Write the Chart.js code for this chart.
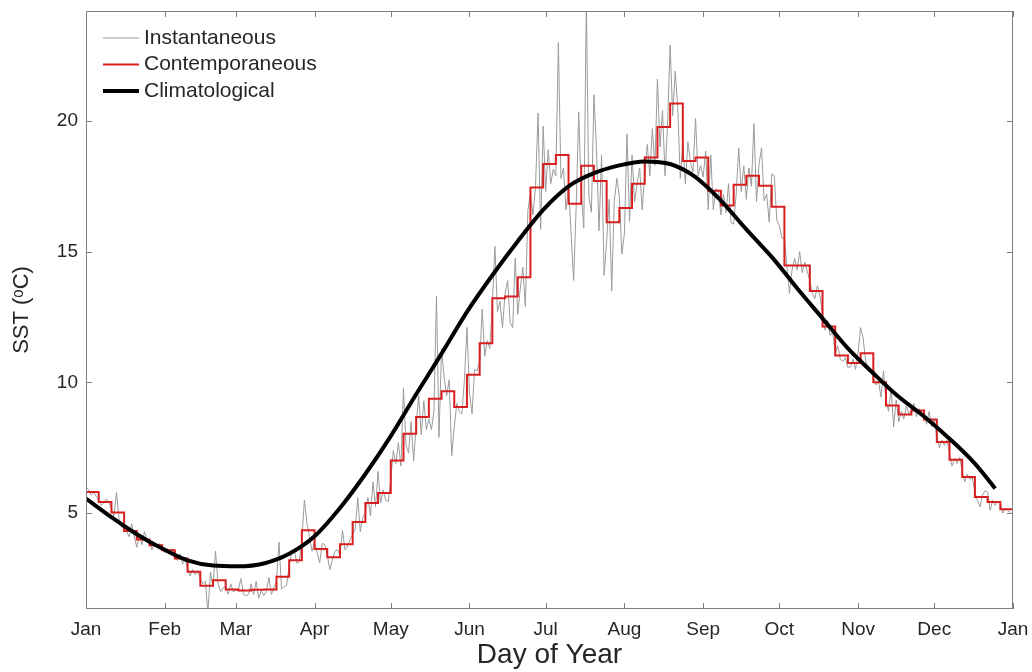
<!DOCTYPE html>
<html>
<head>
<meta charset="utf-8">
<script src="https://cdn.jsdelivr.net/npm/chart.js@4.4.1/dist/chart.umd.min.js"></script>
<style>
  html, body { margin: 0; padding: 0; background: #fff; }
  canvas { display: block; }
</style>
</head>
<body>
<canvas id="sst" width="1032" height="672"></canvas>
<script>
const monthLabels = ["Jan", "Feb", "Mar", "Apr", "May", "Jun", "Jul", "Aug", "Sep", "Oct", "Nov", "Dec", "Jan"];
const monthStartDays = [0, 31, 59, 90, 120, 151, 181, 212, 243, 273, 304, 334, 365];
const yTicks = [5, 10, 15, 20];

// daily SST, one row per 5-day block
const instantaneous = [
  6.0, 5.9, 5.7, 5.8, 5.65,
  5.5, 5.3, 5.4, 5.55, 5.4,
  5.2, 4.9, 5.8, 4.8, 4.45,
  4.5, 4.3, 4.1, 4.6, 4.1,
  3.7, 4.2, 3.8, 4.3, 4.0,
  3.9, 3.6, 3.85, 3.7, 3.85,
  3.7, 3.5, 3.65, 3.45, 3.65,
  3.4, 3.2, 3.45, 3.05, 3.25,
  2.9, 2.6, 2.85, 2.65, 2.8,
  2.5, 2.3, 2.4, 1.2, 2.75,
  2.2, 3.55, 2.3, 2.0, 2.15,
  2.2, 1.9, 2.3, 2.0, 2.05,
  2.1, 2.5, 1.9, 1.85, 1.9,
  2.3, 1.9, 2.4, 1.75, 2.05,
  1.85, 2.0, 2.55, 1.9, 2.15,
  2.4, 3.9, 2.1, 2.2, 2.25,
  3.0, 3.5, 3.6, 3.1, 3.15,
  4.0, 5.5, 4.6, 4.1, 3.55,
  3.9, 3.5, 3.1, 3.85, 3.8,
  3.4, 2.85, 3.2, 3.55, 3.6,
  3.4, 4.35, 3.6, 3.75, 4.0,
  4.2, 4.4, 5.6, 4.3, 4.85,
  5.0, 5.6, 4.9, 6.2, 5.25,
  6.6, 5.4, 5.9, 5.5, 5.45,
  6.3, 7.4, 6.9, 7.7, 6.8,
  9.8, 7.6, 7.3, 8.5, 7.0,
  8.4, 9.5, 8.0, 9.3, 8.2,
  8.6, 8.2, 8.9, 13.3, 7.9,
  11.3, 10.2, 9.5, 10.1, 7.2,
  8.3, 9.2, 8.9, 8.8, 10.1,
  12.1, 9.6, 8.8, 10.5, 10.45,
  10.8, 12.8, 11.0, 11.6, 11.3,
  13.0, 15.2, 12.7, 13.1, 12.1,
  13.4, 13.9, 12.3, 12.1, 14.75,
  12.6, 13.6, 14.4, 12.9, 16.6,
  17.2, 16.4, 17.5, 20.3, 15.85,
  19.8, 17.3, 18.9, 17.6, 18.15,
  17.9, 23.0, 17.8, 18.2, 16.6,
  17.5, 15.7, 13.9, 16.7, 20.35,
  17.3, 15.9, 24.6, 17.1, 16.5,
  21.0, 18.9, 15.8, 18.7, 14.1,
  15.4, 17.0, 13.5, 16.9, 17.8,
  17.1, 14.9, 15.7, 19.5, 16.15,
  18.7, 16.9, 17.6, 18.2, 16.6,
  18.0, 19.1, 17.9, 19.7, 18.3,
  21.6, 19.0, 20.4, 17.9, 19.95,
  22.9, 20.2, 21.9, 20.5, 17.8,
  19.1, 17.6, 19.2, 18.4, 18.05,
  20.1, 17.9, 18.3, 17.85, 18.85,
  16.6, 18.7, 16.6, 17.4, 17.35,
  16.4, 17.2, 16.5, 17.6, 16.1,
  16.05, 17.2, 18.97, 17.3, 18.28,
  17.0, 18.2, 17.5, 19.9, 16.9,
  18.35, 18.97, 16.95, 17.2, 16.13,
  17.97, 17.9, 16.2, 16.0, 15.53,
  15.5, 14.4, 13.4, 14.3, 14.75,
  14.3, 15.0, 14.2, 14.6, 14.25,
  13.9, 13.4, 13.2, 13.7, 13.3,
  12.6, 12.0, 12.37, 11.8, 11.93,
  11.1, 11.4, 10.9, 10.8, 10.95,
  10.57, 10.6, 10.9, 10.5, 11.13,
  12.1, 11.7, 10.8, 10.6, 10.4,
  10.2, 9.9, 10.07, 9.44, 10.44,
  9.3, 8.9, 9.77, 8.3, 9.33,
  8.5, 8.9, 8.6, 9.1, 8.8,
  8.93, 9.2, 8.68, 9.0, 8.84,
  8.7, 8.4, 8.9, 8.3, 8.6,
  7.9, 7.5, 7.8, 7.6, 7.8,
  7.3, 6.8, 7.1, 6.9, 7.15,
  6.6, 6.2, 6.5, 6.3, 6.35,
  5.8, 5.5, 5.24, 5.7, 5.86,
  5.81, 5.11, 5.5, 5.3, 5.43,
  5.43, 5.0, 5.2, 5.1, 5.02,
];

// 5-day means
const blockLength = 5;
const contemporaneous = [
  5.81, 5.43, 5.03, 4.32, 4.0, 3.78, 3.59, 3.27, 2.76, 2.23,
  2.44, 2.09, 2.05, 2.08, 2.09, 2.57, 3.2, 4.35, 3.63, 3.32,
  3.82, 4.67, 5.39, 5.77, 7.02, 8.04, 8.68, 9.38, 9.66, 9.06,
  10.29, 11.5, 13.22, 13.29, 14.02, 17.45, 18.35, 18.7, 16.83, 18.28,
  17.7, 16.12, 16.67, 17.6, 18.6, 19.77, 20.66, 18.47, 18.6, 17.33,
  16.76, 17.56, 17.9, 17.52, 16.72, 14.47, 14.47, 13.5, 12.14, 11.03,
  10.74, 11.12, 10.01, 9.12, 8.78, 8.93, 8.58, 7.72, 7.05, 6.39,
  5.62, 5.43, 5.15,
];

const climDays = [0, 10, 20, 30, 40, 50, 60, 70, 80, 90, 100, 110, 120, 130, 140, 150, 160, 170,
  180, 190, 200, 210, 220, 230, 240, 250, 260, 270, 280, 290, 300, 310, 320, 330, 340, 350, 358];
const climatological = [5.56, 4.85, 4.2, 3.65, 3.2, 3.0, 2.97, 3.08, 3.45, 4.12, 5.2, 6.5, 7.95, 9.55,
  11.1, 12.7, 14.1, 15.4, 16.6, 17.5, 18.0, 18.3, 18.45, 18.35, 17.85, 16.95, 15.85, 14.8, 13.6,
  12.45, 11.3, 10.35, 9.45, 8.7, 7.85, 6.9, 5.95];

const FONT = "'Liberation Sans', Arial, sans-serif";
const TEXT = "#262626";
const FRAME = "#7f7f7f";

const instPoints = instantaneous.map((v, i) => ({ x: i, y: v }));
const contPoints = contemporaneous.map((v, i) => ({ x: i * blockLength, y: v }));
contPoints.push({ x: contemporaneous.length * blockLength, y: contemporaneous[contemporaneous.length - 1] });
const climPoints = climatological.map((v, i) => ({ x: climDays[i], y: v }));

// box + inward ticks on all four sides
const boxPlugin = {
  id: "box",
  afterDatasetsDraw(chart) {
    const { ctx, chartArea: a, scales } = chart;
    const tl = 6;
    ctx.save();
    ctx.strokeStyle = FRAME;
    ctx.lineWidth = 1;
    ctx.strokeRect(a.left + 0.5, a.top + 0.5, a.right - a.left - 1, a.bottom - a.top - 1);
    ctx.beginPath();
    scales.x.ticks.forEach((t) => {
      const px = Math.round(scales.x.getPixelForValue(t.value)) + 0.5;
      ctx.moveTo(px, a.bottom); ctx.lineTo(px, a.bottom - tl);
      ctx.moveTo(px, a.top); ctx.lineTo(px, a.top + tl);
    });
    scales.y.ticks.forEach((t) => {
      const py = Math.round(scales.y.getPixelForValue(t.value)) + 0.5;
      ctx.moveTo(a.left, py); ctx.lineTo(a.left + tl, py);
      ctx.moveTo(a.right, py); ctx.lineTo(a.right - tl, py);
    });
    ctx.stroke();
    ctx.restore();
  },
};

// legend inside the top-left corner
const insideLegend = {
  id: "insideLegend",
  afterDraw(chart) {
    const { ctx, chartArea: a } = chart;
    ctx.save();
    ctx.font = "21px " + FONT;
    ctx.textBaseline = "middle";
    ctx.fillStyle = TEXT;
    chart.data.datasets.forEach((ds, i) => {
      const y = a.top + 27 + i * 26.5;
      ctx.strokeStyle = ds.borderColor;
      ctx.lineWidth = ds.borderWidth;
      ctx.beginPath();
      ctx.moveTo(a.left + 17, y);
      ctx.lineTo(a.left + 53, y);
      ctx.stroke();
      ctx.fillText(ds.label, a.left + 58, y);
    });
    ctx.restore();
  },
};

new Chart(document.getElementById("sst").getContext("2d"), {
  type: "line",
  data: {
    datasets: [
      {
        label: "Instantaneous",
        data: instPoints,
        borderColor: "#9b9b9b",
        borderWidth: 1,
        pointRadius: 0,
        order: 3,
        clip: 0,
      },
      {
        label: "Contemporaneous",
        data: contPoints,
        borderColor: "#d81f1f",
        borderWidth: 2,
        pointRadius: 0,
        stepped: "before",
        order: 2,
      },
      {
        label: "Climatological",
        data: climPoints,
        borderColor: "#000000",
        borderWidth: 4,
        pointRadius: 0,
        cubicInterpolationMode: "monotone",
        order: 1,
      },
    ],
  },
  options: {
    responsive: false,
    animation: false,
    layout: { padding: { top: 11, right: 19, left: 0, bottom: 0 } },
    plugins: { legend: { display: false }, tooltip: { enabled: false } },
    scales: {
      x: {
        type: "linear",
        min: 0,
        max: 365,
        afterBuildTicks: (s) => { s.ticks = monthStartDays.map((v) => ({ value: v })); },
        afterFit: (s) => { s.height = 63; s.paddingLeft = 0; s.paddingRight = 0; },
        grid: { display: false, drawTicks: false },
        border: { display: false },
        ticks: {
          autoSkip: false,
          maxRotation: 0,
          padding: 9,
          color: TEXT,
          font: { family: FONT, size: 19 },
          callback: (v, i) => monthLabels[i],
        },
        title: {
          display: true,
          text: "Day of Year",
          color: TEXT,
          font: { family: FONT, size: 28 },
          padding: 0,
        },
      },
      y: {
        min: 1.34,
        max: 24.2,
        afterBuildTicks: (s) => { s.ticks = yTicks.map((v) => ({ value: v })); },
        afterFit: (s) => { s.width = 86; s.paddingTop = 0; s.paddingBottom = 0; },
        grid: { display: false, drawTicks: false },
        border: { display: false },
        ticks: {
          padding: 8,
          color: TEXT,
          font: { family: FONT, size: 19 },
        },
        title: {
          display: true,
          text: "SST (\u1d52C)",
          color: TEXT,
          font: { family: FONT, size: 22 },
          padding: { top: 9, bottom: 0 },
        },
      },
    },
  },
  plugins: [boxPlugin, insideLegend],
});
</script>
</body>
</html>
